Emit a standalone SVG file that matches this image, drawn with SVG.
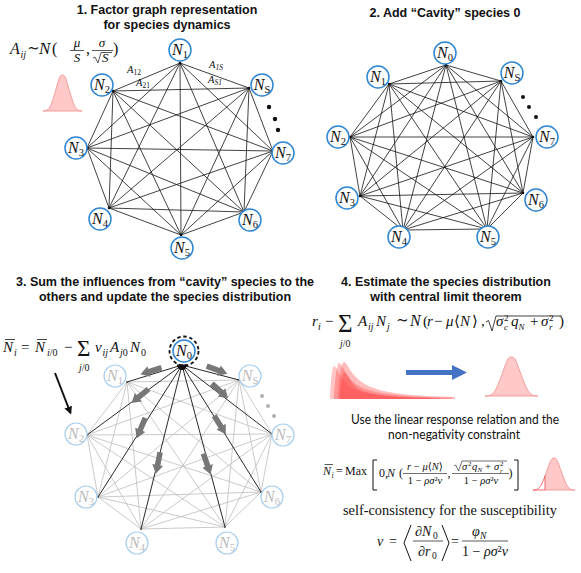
<svg xmlns="http://www.w3.org/2000/svg" xmlns:xlink="http://www.w3.org/1999/xlink" width="581" height="573" viewBox="0 0 581 573">
<defs>
<style>
.t{font-family:"Liberation Sans",Arial,sans-serif;font-weight:bold;font-size:12.5px;fill:#111;text-anchor:middle}
.m{font-family:"Liberation Serif","DejaVu Serif",serif;fill:#111}
.i{font-style:italic}
.s{font-family:"Lato","Open Sans",sans-serif;font-size:12.5px;fill:#111;text-anchor:middle}
.e{stroke:#111;stroke-width:0.8}
.g{stroke:#bdbdbd;stroke-width:0.8}
.k{stroke:#111;stroke-width:0.9}
.nc{fill:#fff;stroke:#2f86d3;stroke-width:1.5}
.nc3{fill:#fff;stroke:#a9cfee;stroke-width:1.2}
.nl{font-family:"Liberation Serif","DejaVu Serif",serif;font-style:italic;font-size:16px;fill:#111;text-anchor:middle}
.nl3{font-family:"Liberation Serif","DejaVu Serif",serif;font-style:italic;font-size:16px;fill:#bbb;text-anchor:middle}
.sb{font-style:normal;font-size:10.5px}
.vd{fill:#111}
.bell{fill:#ffc9c9;stroke:#f28b8b;stroke-width:0.8}
.br{fill:none;stroke:#111;stroke-width:1}
</style>
<marker id="ah" viewBox="0 0 10 10" refX="9" refY="5" markerWidth="6" markerHeight="6" orient="auto" markerUnits="strokeWidth"><path d="M0,1 L10,5 L0,9 z" fill="#111"/></marker>
<marker id="ah2" viewBox="0 0 10 10" refX="8" refY="5" markerWidth="4" markerHeight="4" orient="auto" markerUnits="strokeWidth"><path d="M0,0 L10,5 L0,10 z" fill="#111"/></marker>
<path id="ba" d="M-11,-2.8 L2,-2.8 L2,-5.5 L11,0 L2,5.5 L2,2.8 L-11,2.8 Z" fill="#777"/>
<clipPath id="cr"><rect x="545" y="450" width="40" height="45"/></clipPath>
<clipPath id="cl"><rect x="525" y="450" width="20" height="45"/></clipPath>
</defs>
<rect width="581" height="573" fill="#fff"/>

<!-- titles -->
<text class="t" x="167" y="14">1. Factor graph representation</text>
<text class="t" x="167" y="29">for species dynamics</text>
<text class="t" x="445" y="17">2. Add “Cavity” species 0</text>
<text class="t" x="165" y="286">3. Sum the influences from “cavity” species to the</text>
<text class="t" x="165" y="301">others and update the species distribution</text>
<text class="t" x="446" y="286">4. Estimate the species distribution</text>
<text class="t" x="446" y="301">with central limit theorem</text>

<!-- panel 1 formula -->
<g id="formula1" class="m">
<text x="10" y="54" class="i" font-size="16">A</text>
<text x="20.5" y="57.5" class="i" font-size="10">ij</text>
<text x="27" y="53" font-size="15">∼</text>
<text x="39" y="54" class="i" font-size="17">N</text>
<text x="52" y="54" font-size="16">(</text>
<text x="77" y="47" class="i" font-size="13" text-anchor="middle">μ</text>
<line x1="70" y1="50.5" x2="84" y2="50.5" stroke="#111" stroke-width="0.7"/>
<text x="77" y="62" class="i" font-size="13" text-anchor="middle">S</text>
<text x="86" y="54" font-size="16">,</text>
<text x="102" y="47" class="i" font-size="13" text-anchor="middle">σ</text>
<line x1="92" y1="50.5" x2="113" y2="50.5" stroke="#111" stroke-width="0.7"/>
<path d="M93,58 L95,57 L98,63 L101,52.5 H112" fill="none" stroke="#111" stroke-width="0.7"/>
<text x="102" y="62" class="i" font-size="13">S</text>
<text x="113" y="54" font-size="16">)</text>
</g>
<path id="bell1" class="bell" d="M43,111 C49.5,111 50.8,106.6 56,89.2 C59.25,78.2 59.6,75 62.5,75 C65.4,75 65.75,78.2 69,89.2 C74.2,106.6 75.5,111 82,111 Z"/>

<!-- graph 1 connectors -->
<g id="edges1" class="e">
<line x1="180" y1="63" x2="113" y2="91"/><line x1="180" y1="63" x2="249" y2="88"/><line x1="180" y1="63" x2="87" y2="148"/><line x1="180" y1="63" x2="273" y2="151"/><line x1="180" y1="63" x2="109" y2="208"/><line x1="180" y1="63" x2="244" y2="212"/><line x1="180" y1="63" x2="181" y2="235"/>
<line x1="113" y1="91" x2="249" y2="88"/><line x1="113" y1="91" x2="87" y2="148"/><line x1="113" y1="91" x2="273" y2="151"/><line x1="113" y1="91" x2="109" y2="208"/><line x1="113" y1="91" x2="244" y2="212"/><line x1="113" y1="91" x2="181" y2="235"/>
<line x1="249" y1="88" x2="87" y2="148"/><line x1="249" y1="88" x2="273" y2="151"/><line x1="249" y1="88" x2="109" y2="208"/><line x1="249" y1="88" x2="244" y2="212"/><line x1="249" y1="88" x2="181" y2="235"/>
<line x1="87" y1="148" x2="273" y2="151"/><line x1="87" y1="148" x2="109" y2="208"/><line x1="87" y1="148" x2="244" y2="212"/><line x1="87" y1="148" x2="181" y2="235"/>
<line x1="273" y1="151" x2="109" y2="208"/><line x1="273" y1="151" x2="244" y2="212"/><line x1="273" y1="151" x2="181" y2="235"/>
<line x1="109" y1="208" x2="244" y2="212"/><line x1="109" y1="208" x2="181" y2="235"/>
<line x1="244" y1="212" x2="181" y2="235"/>
<g class="vd" stroke="none"><circle cx="180" cy="63" r="1.3"/><circle cx="113" cy="91" r="1.3"/><circle cx="249" cy="88" r="1.3"/><circle cx="87" cy="148" r="1.3"/><circle cx="273" cy="151" r="1.3"/><circle cx="109" cy="208" r="1.3"/><circle cx="244" cy="212" r="1.3"/><circle cx="181" cy="235" r="1.3"/></g>
</g>
<g id="edgelabels1" class="m i" font-size="10.5">
<text x="127" y="73">A<tspan font-size="7.5" font-style="normal" dy="2">12</tspan></text>
<text x="136" y="86">A<tspan font-size="7.5" font-style="normal" dy="2">21</tspan></text>
<text x="209" y="68">A<tspan font-size="7.5" dy="2">1S</tspan></text>
<text x="208" y="83">A<tspan font-size="7.5" dy="2">S1</tspan></text>
</g>
<g id="dots1" fill="#111"><circle cx="269" cy="107" r="2.2"/><circle cx="275" cy="119" r="2.2"/><circle cx="278" cy="130" r="2.2"/></g>

<!-- graph 1 nodes -->
<g id="g1-N1"><circle class="nc" cx="180" cy="50" r="11"/><text class="nl" x="180" y="55">N<tspan class="sb" dy="3">1</tspan></text></g>
<g id="g1-N2"><circle class="nc" cx="102" cy="85" r="11"/><text class="nl" x="102" y="90">N<tspan class="sb" dy="3">2</tspan></text></g>
<g id="g1-NS"><circle class="nc" cx="262" cy="85" r="11"/><text class="nl" x="262" y="90">N<tspan class="sb" font-style="italic" dy="3">S</tspan></text></g>
<g id="g1-N3"><circle class="nc" cx="76" cy="148" r="11"/><text class="nl" x="76" y="153">N<tspan class="sb" dy="3">3</tspan></text></g>
<g id="g1-N7"><circle class="nc" cx="283" cy="153" r="11"/><text class="nl" x="283" y="158">N<tspan class="sb" dy="3">7</tspan></text></g>
<g id="g1-N4"><circle class="nc" cx="100" cy="219" r="11"/><text class="nl" x="100" y="224">N<tspan class="sb" dy="3">4</tspan></text></g>
<g id="g1-N6"><circle class="nc" cx="250" cy="220" r="11"/><text class="nl" x="250" y="225">N<tspan class="sb" dy="3">6</tspan></text></g>
<g id="g1-N5"><circle class="nc" cx="182" cy="248" r="11"/><text class="nl" x="182" y="253">N<tspan class="sb" dy="3">5</tspan></text></g>

<!-- graph 2 connectors -->
<g id="edges2" class="e">
<line x1="446" y1="65" x2="389" y2="84"/><line x1="446" y1="65" x2="501" y2="81"/><line x1="446" y1="65" x2="350" y2="137"/><line x1="446" y1="65" x2="533" y2="137"/><line x1="446" y1="65" x2="360" y2="196"/><line x1="446" y1="65" x2="523" y2="193"/><line x1="446" y1="65" x2="403" y2="230"/><line x1="446" y1="65" x2="487" y2="229"/>
<line x1="389" y1="84" x2="501" y2="81"/><line x1="389" y1="84" x2="350" y2="137"/><line x1="389" y1="84" x2="533" y2="137"/><line x1="389" y1="84" x2="360" y2="196"/><line x1="389" y1="84" x2="523" y2="193"/><line x1="389" y1="84" x2="403" y2="230"/><line x1="389" y1="84" x2="487" y2="229"/>
<line x1="501" y1="81" x2="350" y2="137"/><line x1="501" y1="81" x2="533" y2="137"/><line x1="501" y1="81" x2="360" y2="196"/><line x1="501" y1="81" x2="523" y2="193"/><line x1="501" y1="81" x2="403" y2="230"/><line x1="501" y1="81" x2="487" y2="229"/>
<line x1="350" y1="137" x2="533" y2="137"/><line x1="350" y1="137" x2="360" y2="196"/><line x1="350" y1="137" x2="523" y2="193"/><line x1="350" y1="137" x2="403" y2="230"/><line x1="350" y1="137" x2="487" y2="229"/>
<line x1="533" y1="137" x2="360" y2="196"/><line x1="533" y1="137" x2="523" y2="193"/><line x1="533" y1="137" x2="403" y2="230"/><line x1="533" y1="137" x2="487" y2="229"/>
<line x1="360" y1="196" x2="523" y2="193"/><line x1="360" y1="196" x2="403" y2="230"/><line x1="360" y1="196" x2="487" y2="229"/>
<line x1="523" y1="193" x2="403" y2="230"/><line x1="523" y1="193" x2="487" y2="229"/>
<line x1="403" y1="230" x2="487" y2="229"/>
<g class="vd" stroke="none"><circle cx="446" cy="65" r="1.3"/><circle cx="389" cy="84" r="1.3"/><circle cx="501" cy="81" r="1.3"/><circle cx="350" cy="137" r="1.3"/><circle cx="533" cy="137" r="1.3"/><circle cx="360" cy="196" r="1.3"/><circle cx="523" cy="193" r="1.3"/><circle cx="403" cy="230" r="1.3"/><circle cx="487" cy="229" r="1.3"/></g>
</g>
<g id="dots2" fill="#111"><circle cx="523" cy="97" r="2"/><circle cx="529" cy="107" r="2"/><circle cx="536" cy="117" r="2"/></g>

<!-- graph 2 nodes -->
<g id="g2-N0"><circle class="nc" cx="445" cy="53" r="11"/><text class="nl" x="445" y="58">N<tspan class="sb" dy="3">0</tspan></text></g>
<g id="g2-N1"><circle class="nc" cx="378" cy="77" r="11"/><text class="nl" x="378" y="82">N<tspan class="sb" dy="3">1</tspan></text></g>
<g id="g2-NS"><circle class="nc" cx="512" cy="73" r="11"/><text class="nl" x="512" y="78">N<tspan class="sb" font-style="italic" dy="3">S</tspan></text></g>
<g id="g2-N2"><circle class="nc" cx="338" cy="137" r="11"/><text class="nl" x="338" y="142">N<tspan class="sb" dy="3">2</tspan></text></g>
<g id="g2-N7"><circle class="nc" cx="547" cy="137" r="11"/><text class="nl" x="547" y="142">N<tspan class="sb" dy="3">7</tspan></text></g>
<g id="g2-N3"><circle class="nc" cx="347" cy="198" r="11"/><text class="nl" x="347" y="203">N<tspan class="sb" dy="3">3</tspan></text></g>
<g id="g2-N6"><circle class="nc" cx="536" cy="200" r="11"/><text class="nl" x="536" y="205">N<tspan class="sb" dy="3">6</tspan></text></g>
<g id="g2-N4"><circle class="nc" cx="399" cy="237" r="11"/><text class="nl" x="399" y="242">N<tspan class="sb" dy="3">4</tspan></text></g>
<g id="g2-N5"><circle class="nc" cx="488" cy="237" r="11"/><text class="nl" x="488" y="242">N<tspan class="sb" dy="3">5</tspan></text></g>

<!-- panel 3 formula -->
<g id="formula3" class="m">
<text x="3" y="352" class="i" font-size="15">N</text>
<line x1="5" y1="339.5" x2="15" y2="339.5" stroke="#111" stroke-width="0.8"/>
<text x="14" y="356" class="i" font-size="10">i</text>
<text x="21" y="352" font-size="15">=</text>
<text x="35" y="352" class="i" font-size="15">N</text>
<line x1="37" y1="339.5" x2="47" y2="339.5" stroke="#111" stroke-width="0.8"/>
<text x="47" y="356" font-size="10"><tspan class="i">i</tspan>/0</text>
<text x="64" y="352" font-size="15">−</text>
<text x="77" y="356" font-size="23">Σ</text>
<text x="79" y="371" font-size="10"><tspan class="i">j</tspan>/0</text>
<text x="95" y="352" class="i" font-size="15">ν</text>
<text x="102.5" y="355.5" class="i" font-size="10">ij</text>
<text x="110" y="352" class="i" font-size="15">A</text>
<text x="120" y="355.5" font-size="10"><tspan class="i">j</tspan>0</text>
<text x="130" y="352" class="i" font-size="15">N</text>
<text x="141" y="355.5" font-size="10">0</text>
</g>
<line id="arrow3" x1="55" y1="373" x2="70.5" y2="413" stroke="#111" stroke-width="2" marker-end="url(#ah2)"/>

<!-- graph 3 connectors -->
<g id="edges3">
<g class="g">
<line x1="127" y1="382" x2="239" y2="380"/><line x1="127" y1="382" x2="87" y2="435"/><line x1="127" y1="382" x2="272" y2="434"/><line x1="127" y1="382" x2="98" y2="497"/><line x1="127" y1="382" x2="261" y2="492"/><line x1="127" y1="382" x2="141" y2="529"/><line x1="127" y1="382" x2="225" y2="527"/>
<line x1="239" y1="380" x2="87" y2="435"/><line x1="239" y1="380" x2="272" y2="434"/><line x1="239" y1="380" x2="98" y2="497"/><line x1="239" y1="380" x2="261" y2="492"/><line x1="239" y1="380" x2="141" y2="529"/><line x1="239" y1="380" x2="225" y2="527"/>
<line x1="87" y1="435" x2="272" y2="434"/><line x1="87" y1="435" x2="98" y2="497"/><line x1="87" y1="435" x2="261" y2="492"/><line x1="87" y1="435" x2="141" y2="529"/><line x1="87" y1="435" x2="225" y2="527"/>
<line x1="272" y1="434" x2="98" y2="497"/><line x1="272" y1="434" x2="261" y2="492"/><line x1="272" y1="434" x2="141" y2="529"/><line x1="272" y1="434" x2="225" y2="527"/>
<line x1="98" y1="497" x2="261" y2="492"/><line x1="98" y1="497" x2="141" y2="529"/><line x1="98" y1="497" x2="225" y2="527"/>
<line x1="261" y1="492" x2="141" y2="529"/><line x1="261" y1="492" x2="225" y2="527"/>
<line x1="141" y1="529" x2="225" y2="527"/>
</g>
<g class="k">
<line x1="127" y1="382" x2="182" y2="365" marker-end="url(#ah)"/>
<line x1="239" y1="380" x2="182" y2="365" marker-end="url(#ah)"/>
<line x1="87" y1="435" x2="182" y2="365" marker-end="url(#ah)"/>
<line x1="272" y1="434" x2="182" y2="365" marker-end="url(#ah)"/>
<line x1="98" y1="497" x2="182" y2="365" marker-end="url(#ah)"/>
<line x1="261" y1="492" x2="182" y2="365" marker-end="url(#ah)"/>
<line x1="141" y1="529" x2="182" y2="365" marker-end="url(#ah)"/>
<line x1="225" y1="527" x2="182" y2="365" marker-end="url(#ah)"/>
</g>
<g fill="#555" stroke="none"><circle cx="127" cy="382" r="1"/><circle cx="239" cy="380" r="1"/><circle cx="87" cy="435" r="1"/><circle cx="272" cy="434" r="1"/><circle cx="98" cy="497" r="1"/><circle cx="261" cy="492" r="1"/><circle cx="141" cy="529" r="1"/><circle cx="225" cy="527" r="1"/></g>
<g id="influence-arrows">
<use xlink:href="#ba" transform="translate(151,371) rotate(163)"/>
<use xlink:href="#ba" transform="translate(217,370) rotate(20)"/>
<use xlink:href="#ba" transform="translate(140,396) rotate(141)"/>
<use xlink:href="#ba" transform="translate(220,391) rotate(42)"/>
<use xlink:href="#ba" transform="translate(141,428) rotate(113)"/>
<use xlink:href="#ba" transform="translate(220,425) rotate(58)"/>
<use xlink:href="#ba" transform="translate(158,463) rotate(101)"/>
<use xlink:href="#ba" transform="translate(207,464) rotate(71)"/>
</g>
</g>
<g id="dots3" fill="#b0b0b0"><circle cx="262" cy="396" r="2"/><circle cx="268" cy="406" r="2"/><circle cx="274" cy="416" r="2"/></g>

<!-- graph 3 nodes -->
<g id="g3-N0"><circle class="nc" cx="184" cy="351" r="11"/><circle cx="184" cy="351" r="14.5" fill="none" stroke="#111" stroke-width="1.8" stroke-dasharray="3.5 2.6"/><text class="nl" x="184" y="356">N<tspan class="sb" dy="3">0</tspan></text></g>
<g id="g3-N1"><circle class="nc3" cx="115" cy="376" r="11"/><text class="nl3" x="115" y="381">N<tspan class="sb" dy="3">1</tspan></text></g>
<g id="g3-NS"><circle class="nc3" cx="250" cy="376" r="11"/><text class="nl3" x="250" y="381">N<tspan class="sb" font-style="italic" dy="3">S</tspan></text></g>
<g id="g3-N2"><circle class="nc3" cx="76" cy="434" r="11"/><text class="nl3" x="76" y="439">N<tspan class="sb" dy="3">2</tspan></text></g>
<g id="g3-N7"><circle class="nc3" cx="283" cy="435" r="11"/><text class="nl3" x="283" y="440">N<tspan class="sb" dy="3">7</tspan></text></g>
<g id="g3-N3"><circle class="nc3" cx="86" cy="497" r="11"/><text class="nl3" x="86" y="502">N<tspan class="sb" dy="3">3</tspan></text></g>
<g id="g3-N6"><circle class="nc3" cx="272" cy="497" r="11"/><text class="nl3" x="272" y="502">N<tspan class="sb" dy="3">6</tspan></text></g>
<g id="g3-N4"><circle class="nc3" cx="137" cy="543" r="11"/><text class="nl3" x="137" y="548">N<tspan class="sb" dy="3">4</tspan></text></g>
<g id="g3-N5"><circle class="nc3" cx="227" cy="543" r="11"/><text class="nl3" x="227" y="548">N<tspan class="sb" dy="3">5</tspan></text></g>

<!-- panel 4 -->
<g id="formula4" class="m">
<text x="312" y="326" class="i" font-size="15">r</text>
<text x="318" y="330" class="i" font-size="10">i</text>
<text x="325" y="326" font-size="15">−</text>
<text x="338" y="332" font-size="25">Σ</text>
<text x="340" y="347" font-size="10"><tspan class="i">j</tspan>/0</text>
<text x="358" y="326" class="i" font-size="15">A</text>
<text x="368" y="330" class="i" font-size="10">ij</text>
<text x="376" y="326" class="i" font-size="15">N</text>
<text x="387" y="330" class="i" font-size="10">j</text>
<text x="396" y="325" font-size="15">∼</text>
<text x="410" y="326" class="i" font-size="16">N</text>
<text x="423" y="326" font-size="15">(</text>
<text x="427" y="326" class="i" font-size="15">r</text>
<text x="434" y="326" font-size="15">−</text>
<text x="446" y="326" class="i" font-size="15">μ</text>
<text x="454" y="326" font-size="15">⟨</text>
<text x="460" y="326" class="i" font-size="15">N</text>
<text x="472" y="326" font-size="15">⟩</text>
<text x="481" y="326" font-size="15">,</text>
<path d="M486,322 L488.5,320.5 L492,331 L496,316 H562" fill="none" stroke="#111" stroke-width="0.8"/>
<text x="496" y="326" class="i" font-size="15">σ</text>
<text x="504" y="321" font-size="9">2</text>
<text x="504" y="330" class="i" font-size="9">c</text>
<text x="511" y="326" class="i" font-size="15">q</text>
<text x="518.5" y="330" class="i" font-size="9">N</text>
<text x="530" y="326" font-size="15">+</text>
<text x="541" y="326" class="i" font-size="15">σ</text>
<text x="549" y="321" font-size="9">2</text>
<text x="549" y="330" class="i" font-size="9">r</text>
<text x="559" y="326" font-size="15">)</text>
</g>

<g id="skewed" fill="#ff4040">
<path opacity="0.3" d="M330,399 C330.5,385 332,366 334,366 C337,366 339,378 350,387 C365,396 395,397.5 440,398 L440,399 Z"/>
<path opacity="0.35" d="M334,399 C334.5,383 337,363 339,363 C342,363 345,376 357,385 C373,395 410,397 452,397.5 L452,399 Z"/>
<path opacity="0.35" d="M338,399 C338.5,383 341,362 344,362 C347,362 350,374 363,383 C380,394 415,396 455,397 L455,399 Z"/>
<path opacity="0.4" d="M340,399 C340.5,388 342,372 344,372 C347,372 349,382 358,389 C372,396 400,397 430,398 L430,399 Z"/>
</g>
<path id="bluearrow" d="M406,370 H452 V365 L467,372.5 L452,380 V375 H406 Z" fill="#4472c4"/>
<path id="bell2" class="bell" d="M485,396 C493.9,396 495.7,391.3 502.7,372.3 C507.1,360.5 507.5,357 511.5,357 C515.5,357 515.9,360.5 520.3,372.3 C527.3,391.3 529.1,396 538,396 Z"/>

<text class="s" x="455" y="424" textLength="208" lengthAdjust="spacingAndGlyphs">Use the linear response relation and the</text>
<text class="s" x="454" y="439" textLength="132" lengthAdjust="spacingAndGlyphs">non-negativity constraint</text>

<g id="formulaMax" class="m">
<text x="323" y="475" class="i" font-size="12">N</text>
<line x1="324.5" y1="464.5" x2="333" y2="464.5" stroke="#111" stroke-width="0.7"/>
<text x="331.5" y="478" class="i" font-size="8">i</text>
<text x="336" y="475" font-size="12">=</text>
<text x="345" y="475" font-size="12">Max</text>
<path class="br" d="M377,460 H373 V490 H377"/>
<text x="379" y="477" font-size="12">0,</text>
<text x="387" y="477" class="i" font-size="12">N</text>
<text x="399" y="477" font-size="12">(</text>
<text x="425" y="470" font-size="10.5" text-anchor="middle"><tspan class="i">r</tspan> − <tspan class="i">μ</tspan>⟨<tspan class="i">N</tspan>⟩</text>
<line x1="403" y1="473.5" x2="447" y2="473.5" stroke="#111" stroke-width="0.6"/>
<text x="425" y="484" font-size="10.5" text-anchor="middle">1 − <tspan class="i">ρσ</tspan>²<tspan class="i">ν</tspan></text>
<text x="447.5" y="477" font-size="12">,</text>
<path d="M454,466 L455.8,465 L458.5,471 L462,461 H507" fill="none" stroke="#111" stroke-width="0.6"/>
<text x="462" y="470" class="i" font-size="10.5">σ</text>
<text x="468" y="466" font-size="7">2</text>
<text x="472" y="470" class="i" font-size="10.5">q</text>
<text x="477.5" y="472" class="i" font-size="7">N</text>
<text x="485" y="470" font-size="10.5">+</text>
<text x="494" y="470" class="i" font-size="10.5">σ</text>
<text x="500" y="466" font-size="7">2</text>
<text x="500" y="472.5" class="i" font-size="7">r</text>
<line x1="452" y1="473.5" x2="509" y2="473.5" stroke="#111" stroke-width="0.6"/>
<text x="481" y="484" font-size="10.5" text-anchor="middle">1 − <tspan class="i">ρσ</tspan>²<tspan class="i">ν</tspan></text>
<text x="508.5" y="477" font-size="12">)</text>
<path class="br" d="M514,460 H518 V490 H514"/>
</g>
<g id="bell3">
<path class="bell" stroke="none" clip-path="url(#cr)" d="M533,490 C540,490 541.4,486.1 547,470.6 C550.5,460.9 550.9,458 554,458 C557.1,458 557.5,460.9 561,470.6 C566.6,486.1 568,490 575,490 Z"/>
<path fill="none" stroke="#f25c5c" stroke-width="0.9" clip-path="url(#cl)" d="M533,490 C540,490 541.4,486.1 547,470.6"/>
<path fill="none" stroke="#f25c5c" stroke-width="0.9" d="M533,490 H545 V475.5"/>
</g>

<text class="m" x="450" y="515" font-size="14.5" text-anchor="middle" textLength="214" lengthAdjust="spacingAndGlyphs">self-consistency for the susceptibility</text>

<g id="formulaNu" class="m">
<text x="377" y="546" class="i" font-size="14">ν</text>
<text x="389" y="546" font-size="14">=</text>
<path class="br" d="M411,525 L404,543 L411,561"/>
<text x="415" y="536" font-size="14">∂<tspan class="i">N</tspan></text>
<text x="433" y="539" font-size="9.5">0</text>
<line x1="413" y1="541" x2="443" y2="541" stroke="#111" stroke-width="0.7"/>
<text x="418" y="556" font-size="14">∂<tspan class="i">r</tspan></text>
<text x="432" y="559" font-size="9.5">0</text>
<path class="br" d="M442,525 L449,543 L442,561"/>
<text x="451" y="546" font-size="14">=</text>
<text x="472" y="536" class="i" font-size="14">φ</text>
<text x="480" y="539" class="i" font-size="9.5">N</text>
<line x1="462" y1="541" x2="508" y2="541" stroke="#111" stroke-width="0.7"/>
<text x="485" y="556" font-size="14" text-anchor="middle">1 − <tspan class="i">ρσ</tspan>²<tspan class="i">ν</tspan></text>
</g>
</svg>
